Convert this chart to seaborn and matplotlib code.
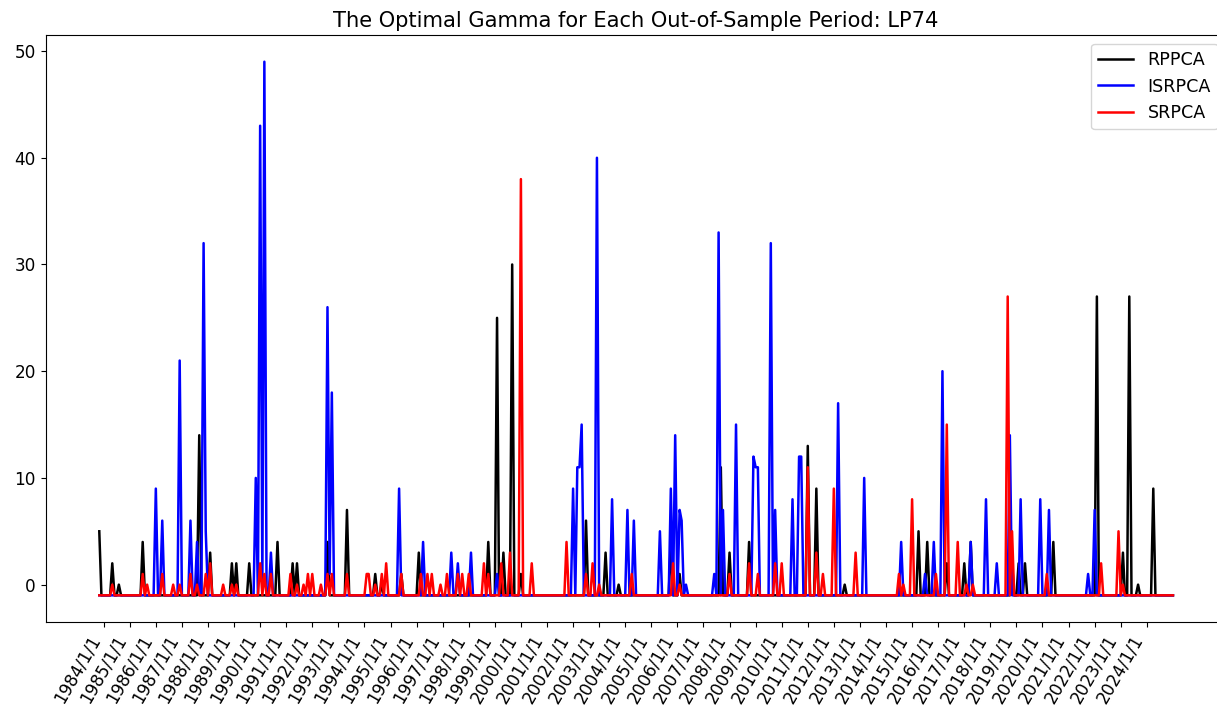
import matplotlib
matplotlib.use("Agg")
import matplotlib.pyplot as plt
import numpy as np
import pandas as pd
import seaborn as sns

# monthly out-of-sample periods, gamma = -1 unless listed below
start = "1983-11"
end = "2025-01"
baseline = -1

rppca = {'1983-11': 5, '1984-05': 2, '1984-08': 0, '1985-07': 4, '1987-09': 14, '1988-02': 3,
         '1988-12': 2, '1989-02': 2, '1989-08': 2, '1990-09': 4, '1991-04': 2, '1991-06': 2,
         '1992-08': 4, '1993-05': 7, '1994-06': 1, '1994-09': 0, '1995-06': 1, '1996-02': 3,
         '1998-10': 4, '1999-02': 25, '1999-05': 3, '1999-09': 30, '2000-01': 1, '2002-07': 6,
         '2003-04': 3, '2003-10': 0, '2005-10': 4, '2006-02': 1, '2007-09': 11, '2008-01': 3,
         '2008-10': 4, '2011-01': 13, '2011-05': 9, '2012-06': 0, '2015-04': 5, '2015-08': 4,
         '2016-05': 2, '2017-01': 2, '2017-04': 4, '2018-11': 2, '2019-02': 2, '2019-05': 2,
         '2020-06': 4, '2022-02': 27, '2023-02': 3, '2023-05': 27, '2023-09': 0, '2024-04': 9}

isrpca = {'1986-01': 9, '1986-04': 6, '1986-12': 21, '1987-05': 6, '1987-08': 4, '1987-11': 32,
          '1987-12': 5, '1989-11': 10, '1990-01': 43, '1990-02': 0, '1990-03': 49, '1990-06': 3,
          '1992-08': 26, '1992-09': 1, '1992-10': 18, '1995-05': 9, '1996-04': 4, '1997-05': 3,
          '1997-08': 2, '1998-02': 3, '1999-02': 1, '2002-01': 9, '2002-03': 11, '2002-04': 11,
          '2002-05': 15, '2002-12': 40, '2003-07': 8, '2004-02': 7, '2004-05': 6, '2005-05': 5,
          '2005-10': 9, '2005-12': 14, '2006-02': 7, '2006-03': 6, '2006-05': 0, '2007-06': 1,
          '2007-08': 33, '2007-10': 7, '2008-04': 15, '2008-12': 12, '2009-01': 11, '2009-02': 11,
          '2009-08': 32, '2009-10': 7, '2010-06': 8, '2010-09': 12, '2010-10': 12, '2012-03': 17,
          '2013-03': 10, '2014-08': 4, '2015-07': 1, '2015-11': 4, '2016-03': 20, '2017-04': 4,
          '2017-11': 8, '2018-04': 2, '2018-10': 14, '2019-03': 8, '2019-12': 8, '2020-04': 7,
          '2021-10': 1, '2022-01': 7}

srpca = {'1984-05': 0, '1985-07': 1, '1985-09': 0, '1986-04': 1, '1986-09': 0, '1986-12': 0,
         '1987-05': 1, '1987-08': 0, '1987-12': 1, '1988-02': 2, '1988-08': 0, '1988-12': 0,
         '1989-02': 0, '1990-01': 2, '1990-03': 1, '1990-06': 1, '1991-03': 1, '1991-06': 0,
         '1991-09': 0, '1991-11': 1, '1992-01': 1, '1992-05': 0, '1992-08': 1, '1992-10': 1,
         '1993-05': 1, '1994-02': 1, '1994-03': 1, '1994-06': 0, '1994-09': 1, '1994-11': 2,
         '1995-06': 1, '1996-03': 1, '1996-06': 1, '1996-08': 1, '1996-12': 0, '1997-03': 1,
         '1997-08': 1, '1997-10': 1, '1998-01': 1, '1998-08': 2, '1998-10': 1, '1999-04': 2,
         '1999-08': 3, '2000-01': 38, '2000-06': 2, '2001-10': 4, '2002-07': 1, '2002-10': 2,
         '2003-01': 0, '2004-04': 1, '2005-11': 2, '2006-02': 0, '2008-01': 1, '2008-10': 2,
         '2009-02': 1, '2009-10': 2, '2010-01': 2, '2011-01': 11, '2011-05': 3, '2011-08': 1,
         '2012-01': 9, '2012-11': 3, '2014-07': 1, '2014-09': 0, '2015-01': 8, '2015-12': 1,
         '2016-05': 15, '2016-10': 4, '2017-02': 0, '2017-05': 0, '2018-09': 27, '2018-11': 5,
         '2020-03': 1, '2022-04': 2, '2022-12': 5, '2023-02': 0}

tick_years = list(range(1984, 2025))

dates = pd.date_range(start, end, freq="MS")


def build(spikes):
    s = pd.Series(float(baseline), index=dates)
    for d, v in spikes.items():
        s[pd.Timestamp(d)] = v
    return s.values


fig = plt.figure(figsize=(12.17, 7.12), dpi=100)
ax = fig.add_axes([45.6 / 1217, 0.1264, 1181 / 1217, 0.8244])

lw = 1.8
sns.lineplot(x=dates, y=build(rppca), color="black", lw=lw, label="RPPCA", ax=ax)
sns.lineplot(x=dates, y=build(isrpca), color="blue", lw=lw, label="ISRPCA", ax=ax)
sns.lineplot(x=dates, y=build(srpca), color="red", lw=lw, label="SRPCA", ax=ax)

ax.set_title("The Optimal Gamma for Each Out-of-Sample Period: LP74", fontsize=15.1)
ax.set_xticks(pd.to_datetime([f"{y}-01-01" for y in tick_years]))
ax.set_xticklabels([f"{y}/1/1" for y in tick_years], rotation=60, ha="right", fontsize=12.2)
ax.tick_params(axis="y", labelsize=12.2)
ax.set_xlabel("")
ax.set_ylabel("")
ax.legend(loc="upper right", fontsize=12.6)

fig.savefig("out.png", dpi=100)
